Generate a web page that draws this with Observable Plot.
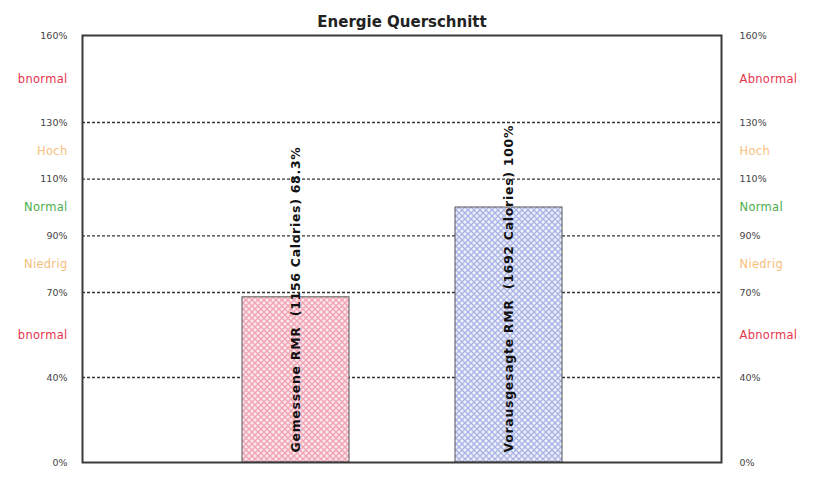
<!DOCTYPE html>
<html>
<head>
<meta charset="utf-8">
<script src="https://cdn.jsdelivr.net/npm/d3@7"></script>
<script src="https://cdn.jsdelivr.net/npm/@observablehq/plot@0.6"></script>
<style>
  html, body { margin: 0; padding: 0; background: #fff; }
  #chart svg { display: block; }
  .barlabel text { letter-spacing: 0.7px; }
  .zonelabel text { letter-spacing: 0.3px; }
</style>
</head>
<body>
<div id="chart"></div>
<script>
// ---- data ----
const title = "Energie Querschnitt";
const categories = ["Gemessene RMR", "Vorausgesagte RMR"];
const calories = [1156, 1692];
const percents = [68.3, 100];
const percentText = ["68.3%", "100%"];
const yTicks = [0, 40, 70, 90, 110, 130, 160];
const gridValues = [40, 70, 90, 110, 130];
const zoneValues = [145, 120, 100, 80, 55];
const zoneLeft = ["bnormal", "Hoch", "Normal", "Niedrig", "bnormal"];
const zoneRight = ["Abnormal", "Hoch", "Normal", "Niedrig", "Abnormal"];
const zoneColors = ["#e8344c", "#f7be7c", "#4cae4c", "#f7be7c", "#e8344c"];
const barPatterns = ["url(#hatchRed)", "url(#hatchBlue)"];

const bars = categories.map((c, i) => ({
  cat: c, value: percents[i],
  label: `${c}  (${calories[i]} Calories) ${percentText[i]}`
}));
const zones = zoneValues.map((v, i) => ({v, left: zoneLeft[i], right: zoneRight[i], color: zoneColors[i]}));

const W = 814, H = 497;
const mT = 35, mB = 35, mL = 82, mR = 93;
const y0 = H - mB, yTop = mT;
// piecewise scale reproducing the uneven spacing of the original axis
const yDomain = [0, 40, 70, 130, 160];
const yRange = [y0, 377, 292, 122, yTop];

const chart = Plot.plot({
  width: W, height: H,
  marginTop: mT, marginBottom: mB, marginLeft: mL, marginRight: mR,
  style: {fontFamily: "'DejaVu Sans', Verdana, sans-serif", background: "#fff"},
  x: {domain: categories, paddingInner: 0.5, paddingOuter: 0.75, axis: null},
  y: {type: "linear", domain: yDomain, range: yRange, axis: null},
  color: {type: "ordinal", domain: categories, range: barPatterns},
  marks: [
    Plot.ruleY(gridValues, {stroke: "#333", strokeWidth: 1.3, strokeDasharray: "3,2"}),
    Plot.barY(bars, {x: "cat", y: "value", fill: "cat", stroke: "#555", strokeWidth: 1}),
    Plot.text(bars, {x: "cat", y: () => 0, text: "label", rotate: -90, textAnchor: "start",
      dy: -10, fontSize: 12.5, fontWeight: "bold", fill: "#111", className: "barlabel"}),
    Plot.frame({stroke: "#3a3a3a", strokeWidth: 2}),
    Plot.axisY(yTicks, {anchor: "left", tickSize: 0, tickPadding: 15, tickFormat: d => d + "%",
      fontSize: 9.5, fill: "#444"}),
    Plot.axisY(yTicks, {anchor: "right", tickSize: 0, tickPadding: 18, tickFormat: d => d + "%",
      fontSize: 9.5, fill: "#444", textAnchor: "start"}),
    Plot.text(zones, {y: "v", text: "left", frameAnchor: "left", dx: -15, textAnchor: "end",
      fill: "color", fontSize: 11.5, className: "zonelabel"}),
    Plot.text(zones, {y: "v", text: "right", frameAnchor: "right", dx: 18, textAnchor: "start",
      fill: "color", fontSize: 11.5, className: "zonelabel"}),
    Plot.text([title], {frameAnchor: "top", dy: -19, text: d => d, fontSize: 15,
      fontWeight: "bold", fill: "#222"})
  ]
});

const ns = "http://www.w3.org/2000/svg";
const defs = document.createElementNS(ns, "defs");
defs.innerHTML = `
  <pattern id="hatchRed" patternUnits="userSpaceOnUse" width="6" height="6">
    <rect width="6" height="6" fill="#fbe6ea"/>
    <path d="M0,0L6,6M6,0L0,6" stroke="#f0a3b4" stroke-width="1.3"/>
  </pattern>
  <pattern id="hatchBlue" patternUnits="userSpaceOnUse" width="6" height="6">
    <rect width="6" height="6" fill="#eef0fb"/>
    <path d="M0,0L6,6M6,0L0,6" stroke="#aab4e4" stroke-width="1.3"/>
  </pattern>`;
chart.insertBefore(defs, chart.firstChild);
document.getElementById("chart").appendChild(chart);
</script>
</body>
</html>
